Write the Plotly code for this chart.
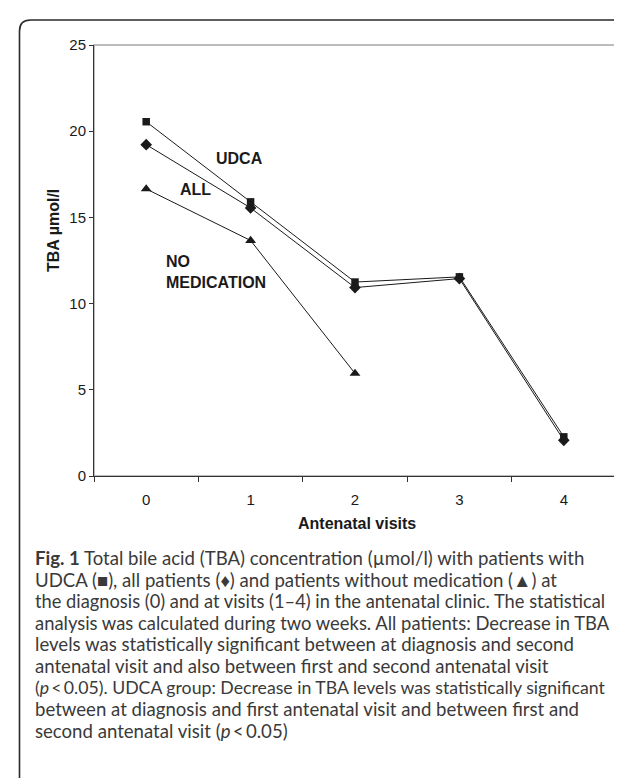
import plotly.graph_objects as go

# ---- data ----
visits = [0, 1, 2, 3, 4]
visit_labels = ["0", "1", "2", "3", "4"]
udca = [20.55, 15.9, 11.25, 11.55, 2.27]
all_patients = [19.22, 15.55, 10.93, 11.45, 2.07]
no_med_visits = [0, 1, 2]
no_medication = [16.65, 13.66, 5.95]
y_ticks = [0, 5, 10, 15, 20, 25]

caption_lines = [
    "<b>Fig. 1</b> Total bile acid (TBA) concentration (µmol/l) with patients with",
    "UDCA (■), all patients (♦) and patients without medication (▲) at",
    "the diagnosis (0) and at visits (1–4) in the antenatal clinic. The statistical",
    "analysis was calculated during two weeks. All patients: Decrease in TBA",
    "levels was statistically significant between at diagnosis and second",
    "antenatal visit and also between first and second antenatal visit",
    "(<i>p</i>\u2009<\u20090.05). UDCA group: Decrease in TBA levels was statistically significant",
    "between at diagnosis and first antenatal visit and between first and",
    "second antenatal visit (<i>p</i>\u2009<\u20090.05)",
]
caption_sizes = [18.6, 18.6, 18.3, 18.4, 18.6, 18.6, 17.7, 18.6, 18.6]

W, H = 622, 778
L, R, T, B = 86, 608, 37, 468   # plot-area pixel box


def px(x):
    return (x - L) / (R - L)


def py(y):
    return (B - y) / (B - T)


CHART_FONT = "Liberation Sans, Arial, sans-serif"
INK = "#1a1a1a"
LBL = dict(size=16, color=INK, family=CHART_FONT)

fig = go.Figure()
fig.add_trace(go.Scatter(
    x=visits, y=all_patients, mode="lines+markers",
    line=dict(color=INK, width=1),
    marker=dict(symbol="diamond", size=9, color=INK),
    name="ALL"))
fig.add_trace(go.Scatter(
    x=visits, y=udca, mode="lines+markers",
    line=dict(color=INK, width=1),
    marker=dict(symbol="square", size=7.5, color=INK),
    name="UDCA"))
fig.add_trace(go.Scatter(
    x=no_med_visits, y=no_medication, mode="lines+markers",
    line=dict(color=INK, width=1),
    marker=dict(symbol="triangle-up", size=9.5, color=INK),
    name="NO MEDICATION"))

annotations = [
    dict(x=0.65, y=18.4, xref="x", yref="y", text="<b>UDCA</b>", showarrow=False,
         xanchor="left", yanchor="middle", font=LBL),
    dict(x=0.30, y=16.6, xref="x", yref="y", text="<b>ALL</b>", showarrow=False,
         xanchor="left", yanchor="middle", font=LBL),
    dict(x=0.17, y=11.85, xref="x", yref="y", text="<b>NO<br>MEDICATION</b>", showarrow=False,
         xanchor="left", yanchor="middle", align="left", font=LBL),
    dict(x=px(45), y=py(223), xref="paper", yref="paper", text="<b>TBA µmol/l</b>",
         textangle=-90, showarrow=False, xanchor="center", yanchor="middle", font=LBL),
    dict(x=px(349), y=py(515), xref="paper", yref="paper", text="<b>Antenatal visits</b>",
         showarrow=False, xanchor="center", yanchor="middle", font=LBL),
]
for i, (line, sz) in enumerate(zip(caption_lines, caption_sizes)):
    annotations.append(dict(
        x=px(25), y=py(550 + 21.6 * i), xref="paper", yref="paper", text=line,
        showarrow=False, xanchor="left", yanchor="middle", align="left",
        font=dict(size=sz, color="#3a3a3a", family="Lato, sans-serif")))

shapes = [
    # light frame around plot area (top/right visible)
    dict(type="rect", xref="paper", yref="paper", x0=0, y0=0, x1=1, y1=1,
         line=dict(color="#a6a6a6", width=1.5), layer="below"),
    # rounded outer border of the figure panel
    dict(type="path", xref="paper", yref="paper",
         path=(f"M {px(11.5)} {py(800)} L {px(11.5)} {py(23)} "
               f"Q {px(11.5)} {py(12)} {px(22.5)} {py(12)} L {px(640)} {py(12)}"),
         line=dict(color="#2a2a2a", width=1.6)),
]

fig.update_layout(
    width=W, height=H,
    margin=dict(l=L, r=W - R, t=T, b=H - B),
    paper_bgcolor="white", plot_bgcolor="white",
    showlegend=False,
    annotations=annotations, shapes=shapes,
    font=dict(family=CHART_FONT, size=15, color=INK),
)
fig.update_xaxes(
    range=[-0.5, 4.5], tickvals=visits, ticktext=visit_labels,
    ticks="", showgrid=False, zeroline=False,
    showline=True, linecolor="#333", linewidth=1,
    tickfont=dict(size=15, color=INK, family=CHART_FONT),
    ticklabelstandoff=10,
    minor=dict(tick0=-0.5, dtick=1, ticks="outside", ticklen=5,
               tickcolor="#333", tickwidth=1, showgrid=False),
    fixedrange=True,
)
fig.update_yaxes(
    range=[0, 25], tickvals=y_ticks, ticks="outside", ticklen=4,
    tickcolor="#333", showgrid=False, zeroline=False,
    showline=True, linecolor="#333", linewidth=1,
    tickfont=dict(size=15, color=INK, family=CHART_FONT),
    fixedrange=True,
)

fig.write_html("out.html")
